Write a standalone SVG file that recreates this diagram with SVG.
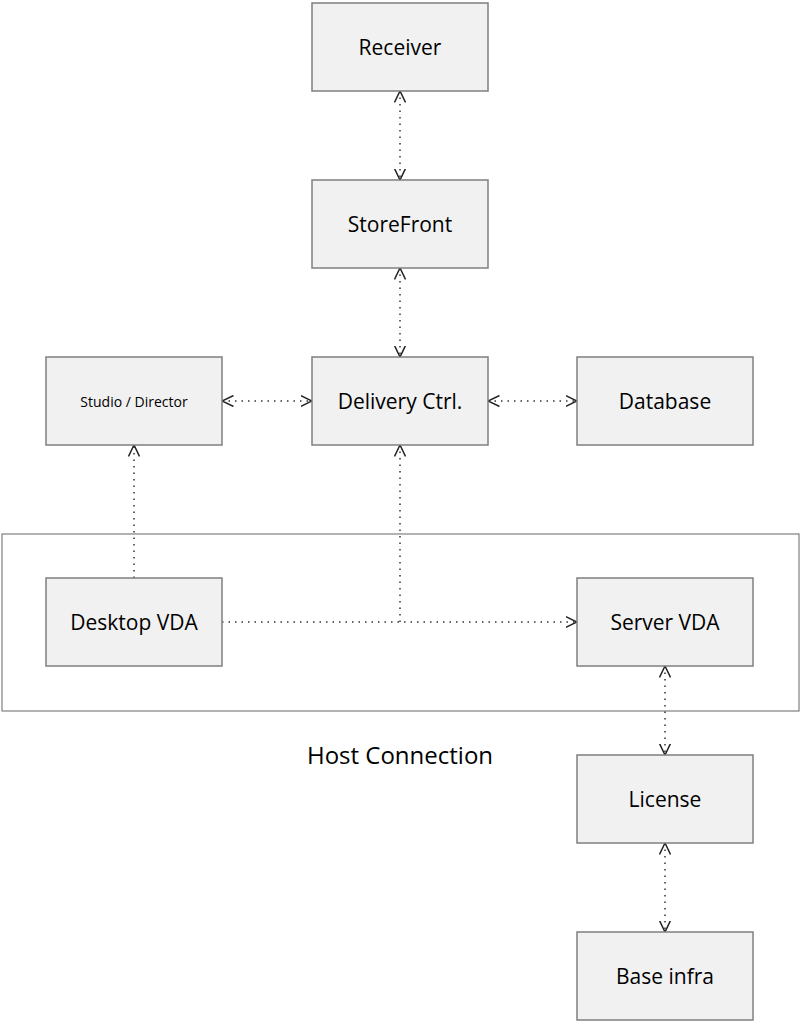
<svg xmlns="http://www.w3.org/2000/svg" width="801" height="1024" viewBox="0 0 801 1024">
<style>
.box{fill:#f1f1f1;stroke:#7f7f7f;stroke-width:1.5}
.t{font-family:"Open Sans","Noto Sans",sans-serif;font-size:21px;fill:#000;text-anchor:middle;dominant-baseline:central}
.c{fill:none;stroke:#333;stroke-width:1.5;stroke-dasharray:1.5 5}
</style>
<defs>
<marker id="a" viewBox="0 0 12 12" refX="11.5" refY="6" markerWidth="12" markerHeight="12" markerUnits="userSpaceOnUse" orient="auto-start-reverse">
<path d="M0,0.5 L11.5,6 L0,11.5" fill="none" stroke="#222" stroke-width="1.5"/>
</marker>
</defs>
<rect x="2" y="534" width="797" height="177" fill="none" stroke="#7f7f7f" stroke-width="1.2"/>
<text class="t" x="400" y="754" style="font-size:24px">Host Connection</text>
<g id="connectors">
<line class="c" x1="400" y1="91" x2="400" y2="180" marker-start="url(#a)" marker-end="url(#a)"/>
<line class="c" x1="400" y1="268" x2="400" y2="357" marker-start="url(#a)" marker-end="url(#a)"/>
<line class="c" x1="222" y1="401" x2="312" y2="401" marker-start="url(#a)" marker-end="url(#a)"/>
<line class="c" x1="488" y1="401" x2="577" y2="401" marker-start="url(#a)" marker-end="url(#a)"/>
<line class="c" x1="134" y1="578" x2="134" y2="445" marker-end="url(#a)"/>
<line class="c" x1="400" y1="622" x2="400" y2="445" marker-end="url(#a)"/>
<line class="c" x1="222" y1="622" x2="577" y2="622" marker-end="url(#a)"/>
<line class="c" x1="665" y1="666" x2="665" y2="755" marker-start="url(#a)" marker-end="url(#a)"/>
<line class="c" x1="665" y1="843" x2="665" y2="932" marker-start="url(#a)" marker-end="url(#a)"/>
</g>
<g id="receiver"><rect class="box" x="312" y="3" width="176" height="88"/><text class="t" x="400" y="47">Receiver</text></g>
<g id="storefront"><rect class="box" x="312" y="180" width="176" height="88"/><text class="t" x="400" y="224">StoreFront</text></g>
<g id="studio"><rect class="box" x="46" y="357" width="176" height="88"/><text class="t" x="134" y="401" style="font-size:14px">Studio / Director</text></g>
<g id="delivery"><rect class="box" x="312" y="357" width="176" height="88"/><text class="t" x="400" y="401">Delivery Ctrl.</text></g>
<g id="database"><rect class="box" x="577" y="357" width="176" height="88"/><text class="t" x="665" y="401">Database</text></g>
<g id="desktop"><rect class="box" x="46" y="578" width="176" height="88"/><text class="t" x="134" y="622">Desktop VDA</text></g>
<g id="server"><rect class="box" x="577" y="578" width="176" height="88"/><text class="t" x="665" y="622">Server VDA</text></g>
<g id="license"><rect class="box" x="577" y="755" width="176" height="88"/><text class="t" x="665" y="799">License</text></g>
<g id="baseinfra"><rect class="box" x="577" y="932" width="176" height="88"/><text class="t" x="665" y="976">Base infra</text></g>
</svg>
